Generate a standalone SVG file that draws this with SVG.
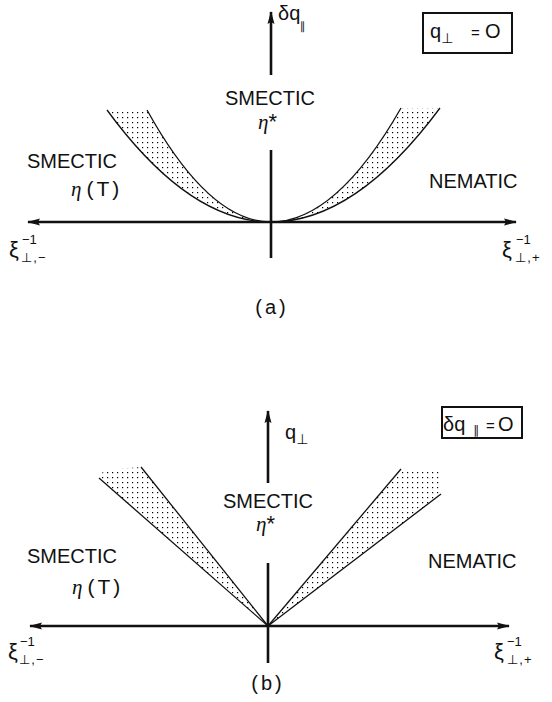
<svg xmlns="http://www.w3.org/2000/svg" width="552" height="702" viewBox="0 0 552 702">
<style>
.t{font-family:"Liberation Sans","DejaVu Sans",sans-serif;font-size:20px;fill:#111}
.g{font-family:"Liberation Serif","DejaVu Serif",serif;font-style:italic;font-size:21px;fill:#111}
.x{font-family:"Liberation Sans","DejaVu Sans",sans-serif;font-size:22px;fill:#111}
.s{font-size:13px}
.ax{stroke:#111;stroke-width:2.6;fill:none}
.cv{stroke:#111;stroke-width:1.3;fill:none}
.box{stroke:#111;stroke-width:2;fill:#fff}
.st{fill:url(#dots);stroke:none}
</style>
<defs>
<pattern id="dots" x="0" y="0" width="5" height="5" patternUnits="userSpaceOnUse">
<rect x="2" y="2" width="1.2" height="1.2" fill="#000"/>
</pattern>
<marker id="arr" markerUnits="userSpaceOnUse" markerWidth="14" markerHeight="8" refX="12" refY="4" orient="auto">
<path d="M0,0.5 L13,4 L0,7.5 L2,4 Z" fill="#111"/>
</marker>
</defs>
<rect width="552" height="702" fill="#fff"/>

<!-- ===== Part (a) ===== -->
<g id="a-regions">
<path class="st" d="M271,222 Q189,222 107,110 L147,110 Q209,222 271,222 Z"/>
<path class="st" d="M271,222 Q336,222 401,108 L440,108 Q355.5,222 271,222 Z"/>
</g>
<g id="a-boundaries">
<path class="cv" d="M271,222 Q189,222 107,110"/>
<path class="cv" d="M271,222 Q209,222 147,110"/>
<path class="cv" d="M271,222 Q336,222 401,108"/>
<path class="cv" d="M271,222 Q355.5,222 440,108"/>
</g>
<g id="a-axes">
<line class="ax" x1="271" y1="222" x2="28" y2="222" marker-end="url(#arr)"/>
<line class="ax" x1="271" y1="222" x2="516" y2="222" marker-end="url(#arr)"/>
<line class="ax" x1="271" y1="75" x2="271" y2="12" marker-end="url(#arr)"/>
<line class="ax" x1="271" y1="150" x2="271" y2="258"/>
</g>
<g id="a-dq-label">
<text class="t" x="278" y="20" font-size="17">δq<tspan x="300" y="30" font-size="11">∥</tspan></text>
</g>
<g id="a-box">
<rect class="box" x="423" y="13" width="89" height="40"/>
<text class="t" x="430" y="38" font-size="19">q<tspan font-size="14" dy="5">⊥</tspan><tspan x="471" dy="-5" font-size="15">=</tspan><tspan x="485">O</tspan></text>
</g>
<g id="a-smectic-star">
<text class="t" x="270" y="105" text-anchor="middle">SMECTIC</text>
<text class="g" x="258" y="129">η<tspan font-style="normal" font-family="Liberation Sans,sans-serif" font-size="22">*</tspan></text>
</g>
<g id="a-smectic-T">
<text class="t" x="27" y="168">SMECTIC</text>
<text class="g" x="71" y="196">η<tspan font-style="normal" font-family="Liberation Sans,sans-serif" dx="5" letter-spacing="3">(T)</tspan></text>
</g>
<g id="a-nematic">
<text class="t" x="429" y="188">NEMATIC</text>
</g>
<g id="a-xi-minus">
<text class="x" x="9" y="257">ξ</text>
<text class="t s" x="22" y="244">−1</text>
<text class="t s" x="21" y="262" letter-spacing="1">⊥,−</text>
</g>
<g id="a-xi-plus">
<text class="x" x="502" y="257">ξ</text>
<text class="t s" x="516" y="244">−1</text>
<text class="t s" x="515" y="262" letter-spacing="1">⊥,+</text>
</g>
<text class="t" x="272" y="314" text-anchor="middle" font-size="19" letter-spacing="3">(a)</text>

<!-- ===== Part (b) ===== -->
<g id="b-regions">
<polygon class="st" points="268,626 99,478 104,470 141,467"/>
<polygon class="st" points="268,626 401,469 441,469 441,494"/>
</g>
<g id="b-boundaries">
<line class="cv" x1="268" y1="626" x2="99" y2="478"/>
<line class="cv" x1="268" y1="626" x2="141" y2="467"/>
<line class="cv" x1="268" y1="626" x2="401" y2="469"/>
<line class="cv" x1="268" y1="626" x2="441" y2="494"/>
</g>
<g id="b-axes">
<line class="ax" x1="268" y1="626" x2="30" y2="626" marker-end="url(#arr)"/>
<line class="ax" x1="268" y1="626" x2="509" y2="626" marker-end="url(#arr)"/>
<line class="ax" x1="268" y1="483" x2="268" y2="411" marker-end="url(#arr)"/>
<line class="ax" x1="268" y1="563" x2="268" y2="663"/>
</g>
<g id="b-q-label">
<text class="t" x="285" y="439" font-size="18">q<tspan font-size="14" dy="5">⊥</tspan></text>
</g>
<g id="b-box">
<rect class="box" x="442" y="407" width="80" height="31"/>
<text class="t" x="443" y="431">δq<tspan font-size="12" x="473" dy="3">∥</tspan><tspan x="486" dy="-3" font-size="15">=</tspan><tspan x="498">O</tspan></text>
</g>
<g id="b-smectic-star">
<text class="t" x="268" y="508" text-anchor="middle">SMECTIC</text>
<text class="g" x="256" y="531">η<tspan font-style="normal" font-family="Liberation Sans,sans-serif" font-size="22">*</tspan></text>
</g>
<g id="b-smectic-T">
<text class="t" x="27" y="563">SMECTIC</text>
<text class="g" x="72" y="594">η<tspan font-style="normal" font-family="Liberation Sans,sans-serif" dx="5" letter-spacing="3">(T)</tspan></text>
</g>
<g id="b-nematic">
<text class="t" x="428" y="568">NEMATIC</text>
</g>
<g id="b-xi-minus">
<text class="x" x="8" y="659">ξ</text>
<text class="t s" x="20" y="646">−1</text>
<text class="t s" x="19" y="664" letter-spacing="1">⊥,−</text>
</g>
<g id="b-xi-plus">
<text class="x" x="494" y="659">ξ</text>
<text class="t s" x="507" y="646">−1</text>
<text class="t s" x="507" y="664" letter-spacing="1">⊥,+</text>
</g>
<text class="t" x="268" y="690" text-anchor="middle" font-size="19" letter-spacing="3">(b)</text>
</svg>
